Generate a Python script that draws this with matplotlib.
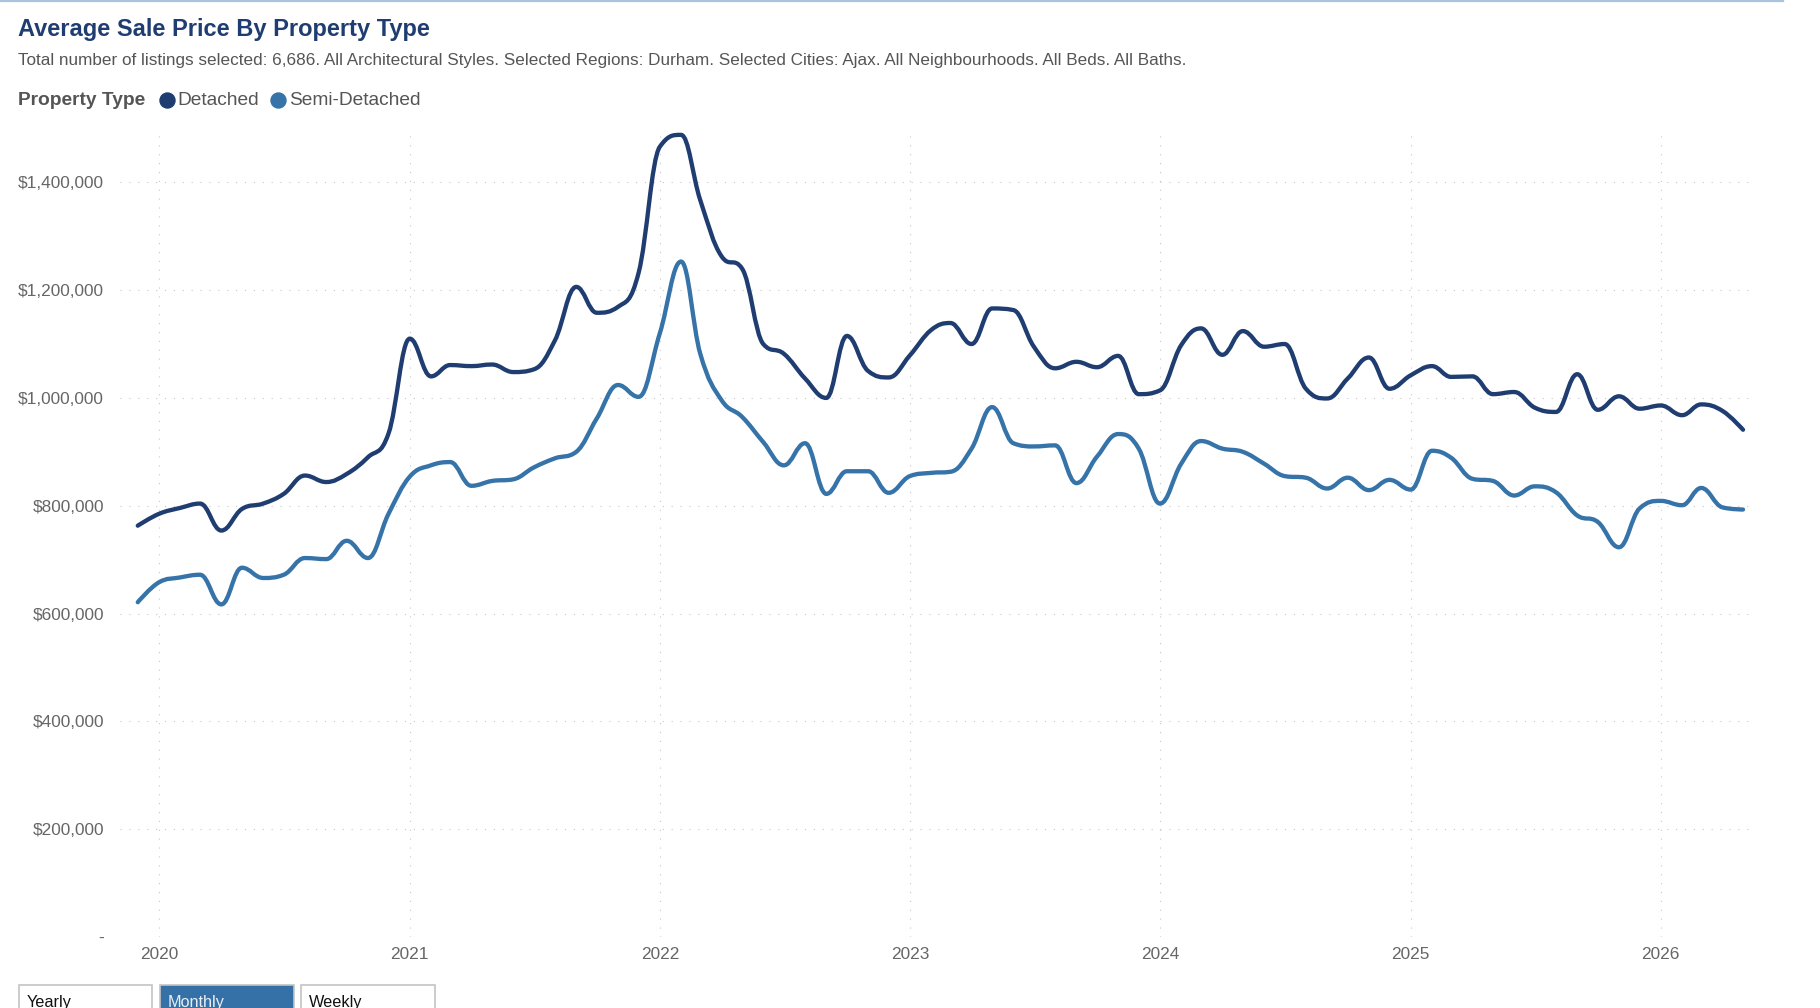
import matplotlib
matplotlib.use("Agg")
import matplotlib.pyplot as plt
import matplotlib.dates as mdates
from matplotlib.path import Path
from matplotlib.patches import PathPatch, Rectangle
from matplotlib.lines import Line2D
from matplotlib.ticker import FuncFormatter, MultipleLocator
import numpy as np
import pandas as pd

plt.rcParams['font.family'] = ['Liberation Sans', 'DejaVu Sans']

# ---------------- data ----------------
months = pd.date_range(start="2019-12-01", end="2026-05-01", freq="MS")

detached = [
    763000,
    785000, 796000, 804000, 754000, 794000, 804000, 822000, 856000, 844000, 859000, 890000, 934000,
    1110000, 1040000, 1061000, 1059000, 1062000, 1048000, 1053000, 1107000, 1206000, 1158000, 1169000, 1232000,
    1466000, 1488000, 1367000, 1263000, 1240000, 1100000, 1082000, 1036000, 1000000, 1115000, 1050000, 1038000,
    1079000, 1126000, 1139000, 1100000, 1166000, 1163000, 1095000, 1055000, 1067000, 1057000, 1078000, 1007000,
    1014000, 1098000, 1129000, 1080000, 1124000, 1095000, 1100000, 1017000, 999000, 1036000, 1075000, 1017000,
    1042000, 1059000, 1039000, 1040000, 1007000, 1011000, 982000, 974000, 1044000, 978000, 1003000, 980000,
    986000, 968000, 988000, 976000, 941000,
]

semi_detached = [
    621000,
    658000, 667000, 672000, 617000, 685000, 666000, 672000, 703000, 701000, 735000, 703000, 785000,
    854000, 875000, 881000, 837000, 846000, 849000, 871000, 888000, 900000, 962000, 1024000, 1002000,
    1120000, 1253000, 1082000, 996000, 965000, 918000, 875000, 916000, 822000, 864000, 864000, 824000,
    855000, 861000, 863000, 906000, 983000, 916000, 910000, 912000, 842000, 891000, 933000, 906000,
    804000, 878000, 920000, 906000, 900000, 878000, 855000, 852000, 832000, 852000, 829000, 848000,
    830000, 902000, 889000, 850000, 846000, 819000, 836000, 825000, 782000, 770000, 723000, 795000,
    809000, 801000, 833000, 797000, 793000,
]

series_names = ["Detached", "Semi-Detached"]
series_colors = ["#1f3d70", "#3573a8"]
buttons = ["Yearly", "Monthly", "Weekly"]

title = "Average Sale Price By Property Type"
subtitle = ("Total number of listings selected: 6,686. All Architectural Styles. "
            "Selected Regions: Durham. Selected Cities: Ajax. All Neighbourhoods. "
            "All Beds. All Baths.")

# ---------------- layout helpers ----------------
W, H = 1820, 1008
fig = plt.figure(figsize=(W / 100, H / 100), dpi=100)


def fx(px):
    return px / W


def fy(py):
    return 1 - py / H


ax = fig.add_axes([fx(120), fy(937), fx(1752) - fx(120), fy(133) - fy(937)])


def spline_path(x, y, smoothing=1.5):
    n = len(x)
    lc = [None] * n
    rc = [None] * n
    d = smoothing + 1
    for i in range(1, n - 1):
        lcx = (smoothing * x[i] + x[i - 1]) / d
        lcy = (smoothing * y[i] + y[i - 1]) / d
        rcx = (smoothing * x[i] + x[i + 1]) / d
        rcy = (smoothing * y[i] + y[i + 1]) / d
        if rcx != lcx:
            slope = (rcy - lcy) / (rcx - lcx)
            lcy = (lcx - x[i]) * slope + y[i]
            rcy = (rcx - x[i]) * slope + y[i]
        if lcy > max(y[i - 1], y[i]):
            lcy = max(y[i - 1], y[i]); rcy = 2 * y[i] - lcy
        elif lcy < min(y[i - 1], y[i]):
            lcy = min(y[i - 1], y[i]); rcy = 2 * y[i] - lcy
        if rcy > max(y[i], y[i + 1]):
            rcy = max(y[i], y[i + 1]); lcy = 2 * y[i] - rcy
        elif rcy < min(y[i], y[i + 1]):
            rcy = min(y[i], y[i + 1]); lcy = 2 * y[i] - rcy
        lc[i] = (lcx, lcy)
        rc[i] = (rcx, rcy)
    verts = [(x[0], y[0])]
    codes = [Path.MOVETO]
    for i in range(n - 1):
        c1 = rc[i] if rc[i] is not None else (x[i], y[i])
        c2 = lc[i + 1] if lc[i + 1] is not None else (x[i + 1], y[i + 1])
        verts += [c1, c2, (x[i + 1], y[i + 1])]
        codes += [Path.CURVE4] * 3
    return Path(verts, codes)


xnum = mdates.date2num(months.to_pydatetime())
for vals, col in zip([detached, semi_detached], series_colors):
    p = spline_path(list(xnum), [float(v) for v in vals])
    patch = PathPatch(p, facecolor="none", edgecolor=col, lw=3.1,
                      capstyle="round", joinstyle="round", zorder=3)
    patch.set_clip_on(False)
    ax.add_patch(patch)

# axes scale / limits
d2020 = mdates.date2num(pd.Timestamp("2020-01-01"))
d2026 = mdates.date2num(pd.Timestamp("2026-01-01"))
ppd = (1660.8 - 159.0) / (d2026 - d2020)
ax.set_xlim(d2020 - (159 - 120) / ppd, d2020 + (1752 - 159) / ppd)
ax.set_ylim(0, 1400000 + (182.3 - 133) / 107.8 * 200000)

ax.xaxis.set_major_locator(mdates.YearLocator())
ax.xaxis.set_major_formatter(mdates.DateFormatter("%Y"))
ax.yaxis.set_major_locator(MultipleLocator(200000))
ax.yaxis.set_major_formatter(FuncFormatter(lambda v, pos: "-" if v == 0 else f"${v:,.0f}"))

for s in ax.spines.values():
    s.set_visible(False)
ax.grid(True, color="#c8c8c8", linestyle=(0, (1, 7)), lw=0.8)
ax.set_axisbelow(True)
ax.tick_params(axis="both", length=0, labelsize=12.4, labelcolor="#666666")
ax.tick_params(axis="y", pad=11.5)
ax.tick_params(axis="x", pad=7.0)
ax.set_facecolor("white")

# ---------------- header ----------------
fig.add_artist(Line2D([0, fx(1783)], [fy(1), fy(1)], transform=fig.transFigure,
                      color="#a9c2de", lw=1.6))
fig.text(fx(18.4), fy(36), title, fontsize=17.0, fontweight="bold",
         color="#1f3d70", va="baseline", ha="left")
fig.text(fx(18.4), fy(65), subtitle, fontsize=12.35, color="#555555",
         va="baseline", ha="left")

# legend
fig.text(fx(18.4), fy(105), "Property Type", fontsize=13.8, fontweight="bold",
         color="#555555", va="baseline", ha="left")
leg_circle_x = [166.5, 278]
leg_text_x = [177.5, 289]
for name, col, cx, tx in zip(series_names, series_colors, leg_circle_x, leg_text_x):
    fig.add_artist(Line2D([fx(cx)], [fy(99.5)], transform=fig.transFigure,
                          marker="o", markersize=10.8, color=col, linestyle="none"))
    fig.text(fx(tx), fy(105), name, fontsize=13.8, color="#555555",
             va="baseline", ha="left")

# ---------------- buttons ----------------
btn_x = [(18.5, 152.5), (160, 293.5), (301, 435)]
for (x0, x1), lab in zip(btn_x, buttons):
    sel = lab == "Monthly"
    r = Rectangle((fx(x0), fy(1015)), fx(x1) - fx(x0), fy(984.5) - fy(1015),
                  transform=fig.transFigure,
                  facecolor="#3571a6" if sel else "white",
                  edgecolor="#c4c4c4", lw=1.2)
    fig.add_artist(r)
    fig.text(fx(x0 + 8), fy(1006.5), lab, fontsize=11.7,
             color="#e8eef5" if sel else "#111111", va="baseline", ha="left")

fig.savefig("out.png", dpi=100, facecolor="white")
